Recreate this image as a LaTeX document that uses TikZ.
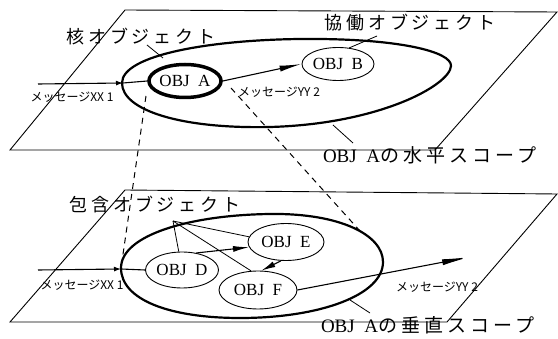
\documentclass[tikz,border=0pt]{standalone}
\usepackage{fontspec}
\setmainfont{Liberation Serif}
\newfontfamily\jp{Noto Sans CJK JP}
\newfontfamily\jpw[LetterSpace=22]{Noto Sans CJK JP}
\usetikzlibrary{shapes.geometric,arrows.meta}
\begin{document}
\begin{tikzpicture}[x=1pt,y=-1pt,
  plane/.style={line width=0.9pt,line join=miter},
  scopeline/.style={line width=2.2pt},
  obj/.style={ellipse,draw,line width=0.9pt,inner sep=0pt,font=\fontsize{17}{17}\selectfont},
  core/.style={obj,line width=3.5pt},
  msg/.style={line width=1.1pt},
  lead/.style={line width=0.8pt},
  dsh/.style={line width=1pt,dash pattern=on 6pt off 5pt},
  biglab/.style={font=\jpw\fontsize{18}{18}\selectfont,inner sep=0pt},
  msglab/.style={font=\jp\fontsize{12}{12}\selectfont,inner sep=0pt},
]
\useasboundingbox (0,0) rectangle (558,339);

% planes
\draw[plane] (125,10) -- (557,12) -- (435,150) -- (10,150) -- cycle;
\draw[plane] (125,190) -- (557,194) -- (447,322) -- (10,322) -- cycle;

% scopes
\draw[scopeline] (122,83) .. controls (122,55) and (210,40) .. (300,39)
  .. controls (400,38) and (452,52) .. (451,66)
  .. controls (450,85) and (380,124) .. (270,127)
  .. controls (180,129) and (122,110) .. (122,83) -- cycle;
\draw[scopeline] (121,268) .. controls (121,235) and (190,215) .. (270,214)
  .. controls (340,213) and (383,235) .. (383,262)
  .. controls (383,295) and (320,318) .. (240,318)
  .. controls (170,318) and (121,300) .. (121,268) -- cycle;

% objects
\node[core,minimum width=72pt,minimum height=33pt] (A) at (185,81) {OBJ\enspace A};
\node[obj,minimum width=72pt,minimum height=33pt] (B) at (338,64) {OBJ\enspace B};
\node[obj,minimum width=73pt,minimum height=36pt] (D) at (182,270) {OBJ\enspace D};
\node[obj,minimum width=76pt,minimum height=37pt] (E) at (286,242) {OBJ\enspace E};
\node[obj,minimum width=78pt,minimum height=38pt] (F) at (258,290) {OBJ\enspace F};

% labels
\node[biglab] (klab) at (141,37) {核オブジェクト};
\node[biglab] (clab) at (410,23) {協働オブジェクト};
\node[biglab,font=\jpw\fontsize{19}{19}\selectfont] (hlab) at (430,155) {{\rmfamily OBJ\enspace A}の水平スコープ};
\node[biglab] (ilab) at (155,205) {包含オブジェクト};
\node[biglab,font=\jpw\fontsize{19}{19}\selectfont] (vlab) at (428,325) {{\rmfamily OBJ\enspace A}の垂直スコープ};

\node[msglab] (l1) at (72,97) {メッセージXX 1};
\node[msglab] (l2) at (279,92) {メッセージYY 2};
\node[msglab] (l3) at (82,285) {メッセージXX 1};
\node[msglab] (l4) at (437,287) {メッセージYY 2};

% messages top
\coordinate (m1s) at (38,84);
\coordinate (m1e) at (123,83);
\draw[msg,-{Latex[length=7pt,width=5pt]}] (m1s) -- (m1e);
\draw[msg] (m1e) -- (A.west);
\draw[msg,-{Latex[length=22pt,width=6pt]}] (A.east) -- (B.west);

% messages bottom
\coordinate (m3s) at (38,270);
\coordinate (m3e) at (121,269);
\draw[msg,-{Latex[length=7pt,width=5pt]}] (m3s) -- (m3e);
\draw[msg] (m3e) -- (D.west);
\draw[msg,-{Latex[length=16pt,width=6pt]}] (D.50) -- (E.188);
\draw[msg,-{Latex[length=14pt,width=6pt]}] (E.255) -- (F.80);
\coordinate (m4e) at (470,257);
\draw[msg,-{Latex[length=28pt,width=6pt]}] (F.east) -- (m4e);

% dashed projections
\coordinate (dA1) at (146,96);
\coordinate (dV1) at (121,268);
\draw[dsh] (dA1) -- (dV1);
\coordinate (dA2) at (231,88);
\coordinate (dV2) at (360,231);
\draw[dsh] (dA2) -- (dV2);

% leaders
\coordinate (k0) at (147,45);
\coordinate (k1) at (163,58);
\draw[lead] (k0) -- (k1);
\coordinate (c0) at (377,36);
\draw[lead] (c0) -- (B.55);
\coordinate (h0) at (333,125);
\coordinate (h1) at (353,143);
\draw[lead] (h0) -- (h1);
\coordinate (hub) at (173,221);
\draw[lead] (hub) -- (D.100);
\draw[lead] (hub) -- (E.172);
\draw[lead] (hub) -- (F.110);
\coordinate (v0) at (350,300);
\coordinate (v1) at (370,313);
\draw[lead] (v0) -- (v1);
\end{tikzpicture}
\end{document}
